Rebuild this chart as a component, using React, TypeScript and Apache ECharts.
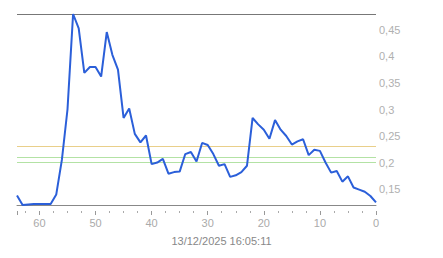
import React, { useEffect, useRef } from "react";
import * as echarts from "echarts";

// seconds ago (x) and values (y)
const xValues: number[] = [
  64, 63, 62, 61, 60, 59, 58, 57, 56, 55, 54, 53, 52, 51, 50, 49, 48, 47, 46, 45, 44, 43,
  42, 41, 40, 39, 38, 37, 36, 35, 34, 33, 32, 31, 30, 29, 28, 27, 26, 25, 24, 23, 22, 21,
  20, 19, 18, 17, 16, 15, 14, 13, 12, 11, 10, 9, 8, 7, 6, 5, 4, 3, 2, 1, 0,
];
const yValues: number[] = [
  0.138, 0.12, 0.121, 0.122, 0.122, 0.122, 0.122, 0.14, 0.205, 0.3, 0.48, 0.453, 0.369,
  0.38, 0.38, 0.362, 0.446, 0.403, 0.375, 0.284, 0.302, 0.254, 0.238, 0.251, 0.197, 0.2,
  0.207, 0.179, 0.182, 0.183, 0.216, 0.22, 0.202, 0.237, 0.233, 0.216, 0.194, 0.197, 0.173,
  0.176, 0.182, 0.194, 0.284, 0.272, 0.262, 0.245, 0.28, 0.262, 0.25, 0.234, 0.24, 0.244,
  0.214, 0.224, 0.222, 0.2, 0.181, 0.184, 0.164, 0.174, 0.153, 0.149, 0.145, 0.137, 0.125,
];
const yTickLabels: number[] = [0.15, 0.2, 0.25, 0.3, 0.35, 0.4, 0.45];
const thresholdYellow: number[] = [0.227];
const thresholdGreen: number[] = [0.208, 0.198];
const timestampLabel = "13/12/2025 16:05:11";

const FONT = 'Arial, "Liberation Sans", sans-serif';

export default function App() {
  const ref = useRef<HTMLDivElement>(null);
  useEffect(() => {
    if (!ref.current) return;
    const chart = echarts.init(ref.current, undefined, { renderer: "svg" });
    const yMin = Math.min(...yValues);
    const yMax = Math.max(...yValues);
    const fmt = (v: number) => String(+Number(v).toFixed(2)).replace(".", ",");
    chart.setOption({
      animation: false,
      textStyle: { fontFamily: FONT },
      grid: { left: 17, right: 67, top: 14, bottom: 53, containLabel: false },
      xAxis: [
        {
          type: "value",
          min: 0,
          max: 64,
          inverse: true,
          position: "bottom",
          axisLine: { show: true, lineStyle: { color: "#888", width: 1 } },
          axisTick: { show: false },
          axisLabel: { show: false },
          splitLine: { show: false },
        },
        {
          type: "value",
          min: 0,
          max: 64,
          interval: 10,
          inverse: true,
          position: "bottom",
          offset: 6,
          axisLine: { show: false },
          axisTick: { show: true, length: 4, lineStyle: { color: "#999" } },
          minorTick: { show: true, splitNumber: 4, length: 2, lineStyle: { color: "#aaa" } },
          axisLabel: {
            color: "#aaa",
            fontSize: 11,
            margin: 6,
            fontFamily: FONT,
            showMaxLabel: false,
            showMinLabel: true,
          },
          splitLine: { show: false },
        },
      ],
      yAxis: {
        type: "value",
        position: "right",
        min: yMin,
        max: yMax,
        axisLine: { show: false },
        axisTick: { show: false },
        splitLine: { show: false },
        axisLabel: {
          customValues: yTickLabels,
          formatter: (v: number) => fmt(v),
          color: "#b0b0b0",
          fontSize: 11,
          margin: 3,
          fontFamily: FONT,
        },
      },
      graphic: [
        {
          type: "text",
          left: "center",
          top: 235,
          style: { text: timestampLabel, fill: "#888", fontSize: 11, fontFamily: FONT },
        },
      ],
      series: [
        {
          type: "line",
          xAxisIndex: 0,
          data: xValues.map((x, i) => [x, yValues[i]]),
          showSymbol: false,
          smooth: false,
          lineStyle: { color: "#2b5fd9", width: 2 },
          itemStyle: { color: "#2b5fd9" },
          z: 5,
          markLine: {
            silent: true,
            symbol: "none",
            label: { show: false },
            data: [
              ...thresholdYellow.map((v) => ({ yAxis: v, lineStyle: { color: "#e9cf8a", width: 1, type: "solid" } })),
              ...thresholdGreen.map((v) => ({ yAxis: v, lineStyle: { color: "#b3e2a4", width: 1, type: "solid" } })),
              { yAxis: yMax, lineStyle: { color: "#777", width: 1, type: "solid" } },
            ],
          },
        },
      ],
    });
    return () => chart.dispose();
  }, []);
  return (
    <div
      ref={ref}
      style={{ position: "fixed", left: 0, top: 0, width: 443, height: 258, background: "#fff" }}
    />
  );
}
